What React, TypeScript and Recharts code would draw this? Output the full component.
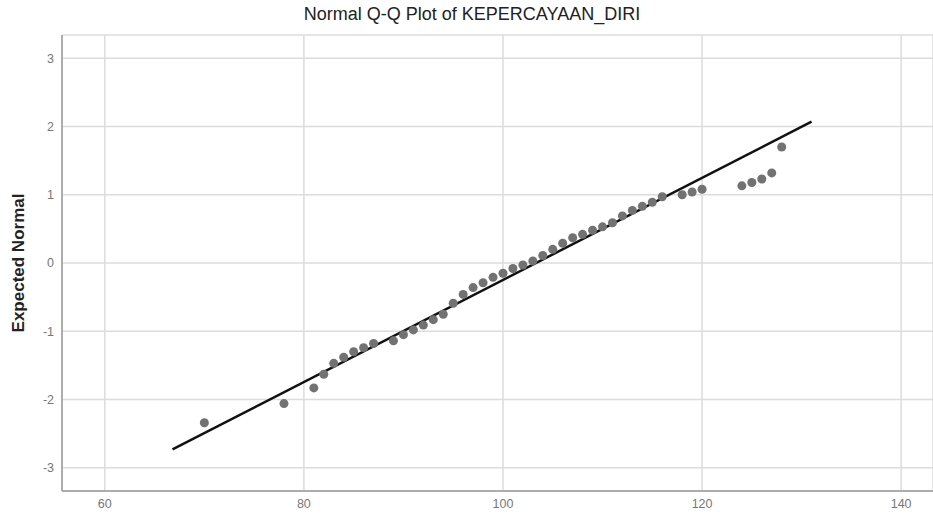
// Normal Q-Q plot of KEPERCAYAAN_DIRI, styled after an SPSS chart export.
// The observed score sits on x and the expected normal value on y. The
// reference line is a plain segment between two points, so it is drawn with
// a ReferenceLine and still goes through the chart's own scales.
import {
  CartesianGrid,
  ReferenceLine,
  Scatter,
  ScatterChart,
  XAxis,
  YAxis,
} from "recharts";

// Observed values (tied scores share a single point, as in SPSS)
const qqX = [
  70, 78, 81, 82, 83, 84, 85, 86, 87, 89, 90, 91, 92, 93, 94, 95, 96, 97, 98,
  99, 100, 101, 102, 103, 104, 105, 106, 107, 108, 109, 110, 111, 112, 113,
  114, 115, 116, 118, 119, 120, 124, 125, 126, 127, 128,
];
// Expected normal value for each observed value
const qqY = [
  -2.34, -2.06, -1.83, -1.63, -1.47, -1.38, -1.3, -1.24, -1.18, -1.14, -1.05,
  -0.98, -0.91, -0.83, -0.75, -0.59, -0.46, -0.36, -0.29, -0.21, -0.15, -0.08,
  -0.03, 0.03, 0.11, 0.2, 0.29, 0.37, 0.42, 0.48, 0.53, 0.59, 0.69, 0.77, 0.83,
  0.89, 0.97, 1.0, 1.04, 1.08, 1.13, 1.18, 1.23, 1.32, 1.7,
];

// Ends of the reference line
const fitX = [66.8, 131.0];
const fitY = [-2.73, 2.07];

const xTicks = [60, 80, 100, 120, 140];
const yTicks = [-3, -2, -1, 0, 1, 2, 3];

const FONT = '"Liberation Sans", Arial, sans-serif';

export default function App() {
  const points = qqX.map((x, i) => ({ x, y: qqY[i] }));

  return (
    <div
      style={{
        position: "fixed",
        left: 0,
        top: 0,
        width: 933,
        height: 516,
        background: "#fff",
        fontFamily: FONT,
      }}
    >
      <div
        style={{
          position: "absolute",
          top: 4,
          left: 0,
          width: 944,
          textAlign: "center",
          fontSize: 18,
          color: "#222",
        }}
      >
        Normal Q-Q Plot of KEPERCAYAAN_DIRI
      </div>
      <div
        style={{
          position: "absolute",
          left: 19,
          top: 263,
          transform: "translate(-50%, -50%) rotate(-90deg)",
          whiteSpace: "nowrap",
          fontSize: 17,
          fontWeight: "bold",
          color: "#222",
        }}
      >
        Expected Normal
      </div>

      <ScatterChart
        width={933}
        height={516}
        margin={{ top: 35, right: 0, bottom: 0, left: 0 }}
      >
        <CartesianGrid stroke="#dcdcdc" strokeWidth={1.5} />
        <XAxis
          type="number"
          dataKey="x"
          domain={[55.7, 143.2]}
          ticks={xTicks}
          height={25}
          tickLine={false}
          axisLine={{ stroke: "#9a9a9a", strokeWidth: 1.5 }}
          tick={{ fill: "#777", fontSize: 12.5, fontFamily: FONT }}
          allowDataOverflow
        />
        <YAxis
          type="number"
          dataKey="y"
          domain={[-3.34, 3.34]}
          ticks={yTicks}
          width={62}
          tickLine={false}
          axisLine={{ stroke: "#9a9a9a", strokeWidth: 1.5 }}
          tick={{ fill: "#777", fontSize: 12.5, fontFamily: FONT }}
          allowDataOverflow
        />
        <Scatter
          data={points}
          fill="#727272"
          shape={(p: any) => (
            <circle cx={p.cx} cy={p.cy} r={4.5} fill="#727272" />
          )}
          isAnimationActive={false}
        />
        <ReferenceLine
          segment={[
            { x: fitX[0], y: fitY[0] },
            { x: fitX[1], y: fitY[1] },
          ]}
          stroke="#111"
          strokeWidth={2.5}
          ifOverflow="visible"
        />
      </ScatterChart>
    </div>
  );
}
